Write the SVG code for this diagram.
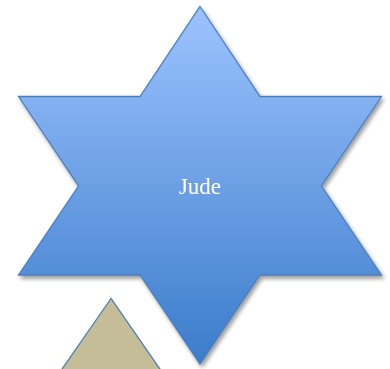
<svg xmlns="http://www.w3.org/2000/svg" width="390" height="369" viewBox="0 0 390 369">
<defs>
<linearGradient id="g" x1="0" y1="0" x2="0" y2="1">
<stop offset="0" stop-color="#9dc3ff"/>
<stop offset="1" stop-color="#3b7cca"/>
</linearGradient>
<filter id="sh" x="-10%" y="-10%" width="120%" height="120%">
<feGaussianBlur in="SourceAlpha" stdDeviation="2"/>
<feOffset dx="2" dy="3" result="b"/>
<feComponentTransfer in="b" result="c"><feFuncA type="linear" slope="0.4"/></feComponentTransfer>
<feMerge><feMergeNode in="c"/><feMergeNode in="SourceGraphic"/></feMerge>
</filter>
<style>
.sh{stroke:#4a7ebb;stroke-width:1.3;stroke-linejoin:miter}
.lbl{font-family:"Liberation Serif","Times New Roman",serif;font-size:23px;fill:#ffffff;text-anchor:middle}
</style>
</defs>
<g id="triangle">
<polygon class="sh" fill="#c4bd97" points="111,298.5 60,372 162,372"/>
</g>
<g id="star" filter="url(#sh)">
<polygon class="sh" fill="url(#g)" points="200,6.5 260,96.5 381.5,96.5 321.5,186 381.5,275 260,275 200,364 140,275 18.5,275 78.5,186 18.5,96.5 140,96.5"/>
<text class="lbl" x="200" y="193.5">Jude</text>
</g>
<g id="connectors"/>
</svg>
